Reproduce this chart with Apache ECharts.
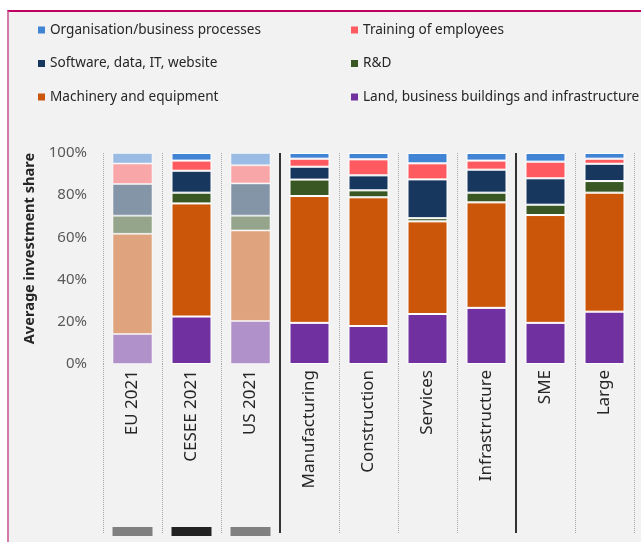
<!DOCTYPE html>
<html>
<head>
<meta charset="utf-8">
<script src="https://cdn.jsdelivr.net/npm/echarts@6.0.0/dist/echarts.min.js"></script>
<style>
  body { margin: 0; background: #fff; }
  #panel {
    position: absolute; left: 7px; top: 10px; width: 632px; height: 530px;
    background: #f2f2f2; border-top: 2px solid #c0005e; border-left: 2px solid #d47aa9;
  }
  #chart { position: absolute; left: 0; top: 0; width: 641px; height: 542px; }
</style>
</head>
<body>
<div id="panel"></div>
<div id="chart"></div>
<script>
const categories = ['EU 2021', 'CESEE 2021', 'US 2021', 'Manufacturing', 'Construction', 'Services', 'Infrastructure', 'SME', 'Large']
// investment shares, %
const land = [14.2, 22.5, 20.4, 19.5, 18.0, 23.7, 26.6, 19.5, 24.8]
const machinery = [47.5, 53.6, 42.9, 60.1, 61.0, 43.9, 50.0, 51.1, 56.4]
const rnd = [8.6, 5.1, 7.0, 7.8, 3.3, 1.5, 4.6, 4.9, 5.5]
const software = [15.0, 10.4, 15.3, 6.1, 7.1, 18.4, 10.9, 12.5, 8.2]
const training = [9.7, 4.8, 8.6, 3.8, 7.6, 7.6, 4.3, 7.9, 2.4]
const organisation = [5.0, 3.6, 5.8, 2.7, 3.0, 4.9, 3.6, 4.1, 2.7]
// bars shown faded (EU, US)
const fadedIndex = [0, 2]
// small marker blocks under the first three columns
const markerValues = [1, 1, 1]
const markerColors = ['#808080', '#222222', '#808080']

const chart = echarts.init(document.getElementById('chart'))

const fontFamily = 'Noto Sans'
const lastLines = categories.length + 1

function lineColors(idx, color) {
  const arr = []
  for (let i = 0; i < lastLines; i++) arr.push(idx.indexOf(i) >= 0 ? color : 'rgba(0,0,0,0)')
  return arr
}

function makeSeries(name, values, color) {
  return {
    name: name,
    type: 'bar',
    stack: 'total',
    xAxisIndex: 0,
    yAxisIndex: 0,
    barWidth: 40,
    itemStyle: { color: color, borderColor: '#ffffff', borderWidth: 1 },
    data: values.map((v, i) => fadedIndex.indexOf(i) >= 0 ? { value: v, itemStyle: { opacity: 0.5 } } : v),
  }
}

function overlayAxis(gridIndex, type, color, width, which) {
  return {
    type: 'category',
    gridIndex: gridIndex,
    data: categories,
    axisLine: { show: false },
    axisTick: { show: false },
    axisLabel: { show: false, interval: 0 },
    splitLine: {
      show: true,
      interval: 0,
      lineStyle: { type: type, width: width, color: which ? lineColors(which, color) : color },
    },
  }
}

const legendBase = {
  orient: 'vertical',
  top: 18,
  itemWidth: 7,
  itemHeight: 7,
  itemGap: 19.5,
  icon: 'rect',
  itemStyle: { borderWidth: 0 },
  textStyle: { fontFamily: fontFamily, fontSize: 13.6, color: '#262626', lineHeight: 14 },
}

const option = {
  animation: false,
  legend: [
    Object.assign({}, legendBase, {
      left: 33,
      data: ['Organisation/business processes', 'Software, data, IT, website', 'Machinery and equipment'],
    }),
    Object.assign({}, legendBase, {
      left: 346,
      data: ['Training of employees', 'R&D', 'Land, business buildings and infrastructure'],
    }),
  ],
  grid: [
    { left: 103, right: 7, top: 153, bottom: 178 },
    { left: 103, right: 7, top: 364, bottom: 9 },
    { left: 103, right: 7, top: 527, bottom: 6 },
  ],
  xAxis: [
    {
      type: 'category',
      gridIndex: 0,
      data: categories,
      axisLine: { show: false },
      axisTick: { show: false },
      axisLabel: {
        interval: 0,
        rotate: 90,
        margin: 6,
        fontFamily: fontFamily,
        fontSize: 17,
        color: '#262626',
      },
      splitLine: { show: true, interval: 0, lineStyle: { type: 'dotted', width: 1, color: '#a6a6a6' } },
    },
    overlayAxis(0, 'solid', '#333333', 2, [3, 7]),
    overlayAxis(1, 'dotted', '#a6a6a6', 1, null),
    overlayAxis(1, 'solid', '#333333', 2, [3, 7]),
    {
      type: 'category',
      gridIndex: 2,
      data: categories,
      axisLine: { show: false },
      axisTick: { show: false },
      axisLabel: { show: false },
    },
  ],
  yAxis: [
    {
      type: 'value',
      gridIndex: 0,
      min: 0,
      max: 100,
      interval: 20,
      name: 'Average investment share',
      nameLocation: 'middle',
      nameGap: 66,
      nameTextStyle: {
        fontFamily: fontFamily,
        fontSize: 14.6,
        fontWeight: 'bold',
        color: '#262626',
        padding: [0, 0, 0, 20],
      },
      axisLine: { show: false },
      axisTick: { show: false },
      splitLine: { show: false },
      axisLabel: { formatter: '{value}%', margin: 16, fontFamily: fontFamily, fontSize: 15, color: '#595959' },
    },
    { type: 'value', gridIndex: 1, min: 0, max: 1, show: false },
    { type: 'value', gridIndex: 2, min: 0, max: 1, show: false },
  ],
  series: [
    makeSeries('Land, business buildings and infrastructure', land, '#7030a0'),
    makeSeries('Machinery and equipment', machinery, '#cb5609'),
    makeSeries('R&D', rnd, '#385723'),
    makeSeries('Software, data, IT, website', software, '#17375e'),
    makeSeries('Training of employees', training, '#ff5a5f'),
    makeSeries('Organisation/business processes', organisation, '#4184d4'),
    {
      name: 'markers',
      type: 'bar',
      xAxisIndex: 4,
      yAxisIndex: 2,
      barWidth: 40,
      data: markerValues.map((v, i) => ({ value: v, itemStyle: { color: markerColors[i] } })),
    },
  ],
}

chart.setOption(option)
</script>
</body>
</html>
